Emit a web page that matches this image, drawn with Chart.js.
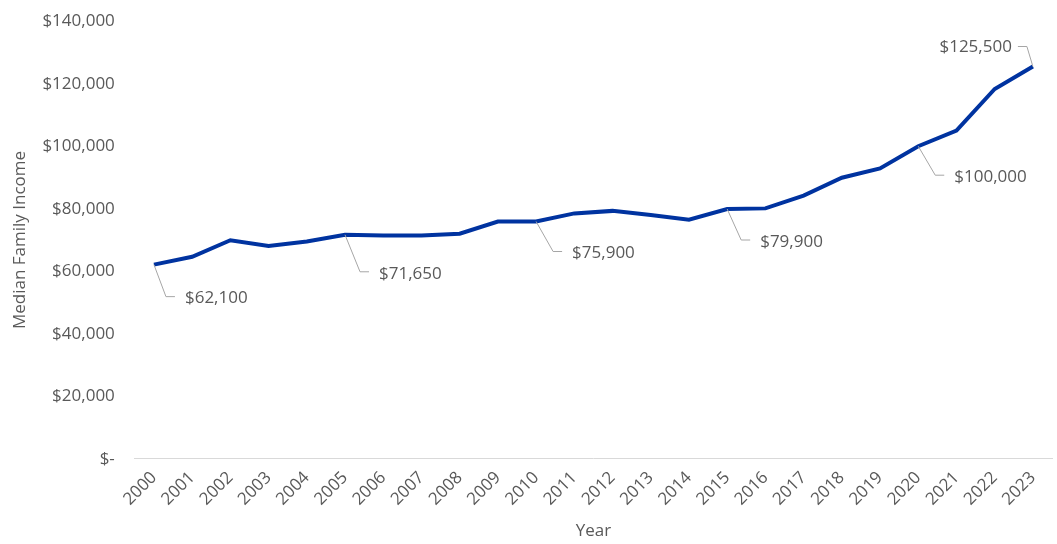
<!DOCTYPE html>
<html>
<head>
<meta charset="utf-8">
<script src="https://cdn.jsdelivr.net/npm/chart.js@4/dist/chart.umd.min.js"></script>
<style>
  html, body { margin: 0; padding: 0; background: #fff; }
  #wrap { width: 1057px; height: 544px; }
</style>
</head>
<body>
<div id="wrap"><canvas id="income"></canvas></div>
<script>
const years = ["2000", "2001", "2002", "2003", "2004", "2005", "2006", "2007", "2008", "2009", "2010", "2011",
  "2012", "2013", "2014", "2015", "2016", "2017", "2018", "2019", "2020", "2021", "2022", "2023"];
const medianIncome = [62100, 64600, 69900, 68100, 69500, 71650, 71400, 71400, 72000, 75900, 75900, 78500,
  79300, 78000, 76500, 79900, 80100, 84200, 89900, 92900, 100000, 105000, 118300, 125500];
const yTicks = [0, 20000, 40000, 60000, 80000, 100000, 120000, 140000];

// which points get a value callout, and where its leader elbow sits
const calloutIndex = [0, 5, 10, 15, 20, 23];
const calloutOffset = [[12, 32], [15, 37], [17, 30], [14, 31], [17, 29], [-6, -20]];

const FONT = "'Open Sans', sans-serif";
const TEXT = "#595959";

function money(v) {
  if (v === 0) return "$-";
  return "$" + v.toLocaleString("en-US");
}

// leader lines + value labels
const callouts = {
  id: "callouts",
  afterDatasetsDraw(chart) {
    const ctx = chart.ctx;
    const meta = chart.getDatasetMeta(0);
    ctx.save();
    ctx.font = "17px " + FONT;
    ctx.fillStyle = TEXT;
    ctx.textBaseline = "middle";
    calloutIndex.forEach((idx, i) => {
      const pt = meta.data[idx];
      const dx = calloutOffset[i][0];
      const dy = calloutOffset[i][1];
      const ex = pt.x + dx, ey = pt.y + dy;
      const dir = dy < 0 ? -1 : 1;
      ctx.strokeStyle = "#a6a6a6";
      ctx.lineWidth = 1;
      ctx.beginPath();
      ctx.moveTo(pt.x, pt.y);
      ctx.lineTo(ex, ey);
      ctx.lineTo(ex + 9 * dir, ey);
      ctx.stroke();
      const label = money(medianIncome[idx]);
      if (dir > 0) {
        ctx.textAlign = "left";
        ctx.fillText(label, ex + 19, ey + 2);
      } else {
        ctx.textAlign = "right";
        ctx.fillText(label, ex - 15, ey + 1);
      }
    });
    ctx.restore();
  }
};

new Chart(document.getElementById("income"), {
  type: "line",
  data: {
    labels: years,
    datasets: [{
      data: medianIncome,
      borderColor: "#0033a0",
      borderWidth: 4,
      pointRadius: 0,
      tension: 0,
      fill: false
    }]
  },
  options: {
    responsive: true,
    maintainAspectRatio: false,
    animation: false,
    layout: { padding: { top: 0, right: 5, left: 10, bottom: 3 } },
    plugins: {
      legend: { display: false },
      tooltip: { enabled: false }
    },
    scales: {
      x: {
        offset: true,
        grid: { display: false },
        border: { display: true, color: "#d9d9d9", width: 1 },
        ticks: {
          color: TEXT,
          font: { family: FONT, size: 17 },
          minRotation: 45,
          maxRotation: 45,
          autoSkip: false,
          padding: 1
        },
        title: {
          display: true,
          text: "Year",
          color: TEXT,
          font: { family: FONT, size: 17 },
          padding: { top: 10, bottom: 0 }
        }
      },
      y: {
        min: 0,
        max: 140000,
        grid: { display: false, drawTicks: false },
        border: { display: false },
        afterBuildTicks(axis) {
          axis.ticks = yTicks.map(v => ({ value: v }));
        },
        // tick padding also pads the top of the plot; take some back,
        // and pull the axis in so the title sits a bit off the edge
        afterFit(axis) {
          axis.paddingTop -= 9;
          axis.width -= 10;
        },
        ticks: {
          color: TEXT,
          font: { family: FONT, size: 17 },
          padding: 20,
          callback: (v) => money(v)
        },
        title: {
          display: true,
          text: "Median Family Income",
          color: TEXT,
          font: { family: FONT, size: 17 },
          padding: { top: 0, bottom: 2 }
        }
      }
    }
  },
  plugins: [callouts]
});
</script>
</body>
</html>
